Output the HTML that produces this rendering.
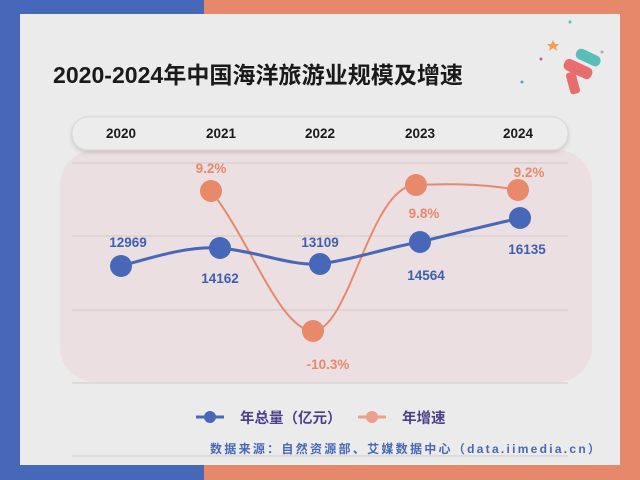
<!DOCTYPE html>
<html><head><meta charset="utf-8"><style>
html,body{margin:0;padding:0;width:640px;height:480px;overflow:hidden;background:#ebebeb}
text{font-family:"Liberation Sans","Noto Sans CJK SC",sans-serif;font-weight:bold}
</style></head><body>
<svg width="640" height="480" viewBox="0 0 640 480" xmlns="http://www.w3.org/2000/svg">
<defs><filter id="sh" x="-5%" y="-30%" width="110%" height="170%"><feDropShadow dx="0" dy="2" stdDeviation="2" flood-color="#000" flood-opacity="0.15"/></filter></defs>
<rect x="0" y="0" width="204" height="480" fill="#4767b8"/>
<rect x="204" y="0" width="436" height="480" fill="#e6896b"/>
<rect x="0" y="465" width="204" height="15" fill="#4767b8"/>
<rect x="20" y="14" width="600" height="451" fill="#ebebeb"/>
<text x="53" y="83" font-size="23" fill="#1a1a1a" textLength="410" lengthAdjust="spacingAndGlyphs">2020-2024年中国海洋旅游业规模及增速</text>
<g>
<rect x="563" y="63" width="30" height="12" rx="5" fill="#e86e6e" transform="rotate(25 578 69)"/>
<rect x="568" y="72" width="10" height="22" rx="3" fill="#e86e6e" transform="rotate(-15 573 83)"/>
<rect x="575" y="52" width="26" height="11" rx="5" fill="#5bbcb8" transform="rotate(25 588 58)"/>
<polygon points="553,40 555,44 559,44 556,47 557,51 553,48 549,51 550,47 547,44 551,44" fill="#f0a050"/>
<circle cx="541" cy="59" r="1.5" fill="#c060a0"/><circle cx="522" cy="82" r="1.5" fill="#5aa0c0"/>
<circle cx="602" cy="52" r="1.5" fill="#aaa"/><circle cx="570" cy="22" r="1.5" fill="#5bbcb8"/>
</g>
<rect x="60" y="150" width="532" height="232" rx="35" fill="#ebdfe2"/>
<rect x="72" y="117" width="496" height="33" rx="16" fill="#ececec" stroke="#d6d6d6" stroke-width="1" filter="url(#sh)"/>
<g font-size="13.5" fill="#1a1a1a" text-anchor="middle">
<text x="121" y="138">2020</text><text x="221" y="138">2021</text><text x="320" y="138">2022</text><text x="420" y="138">2023</text><text x="518" y="138">2024</text></g>
<g stroke="#cfc8ca" stroke-width="1">
<line x1="72" y1="163" x2="568" y2="163"/><line x1="72" y1="236" x2="568" y2="236"/>
<line x1="72" y1="310" x2="568" y2="310"/><line x1="72" y1="383" x2="568" y2="383"/><line x1="72" y1="456" x2="568" y2="456"/></g>
<path d="M211,191 C250,240 280,330 313,331 C350,330 370,185 416,185 C460,183 490,185 518,190" fill="none" stroke="#e8896a" stroke-width="2"/>
<path d="M121,266 C160,255 190,246 220,248 C260,252 290,266 320,264 C360,258 385,248 420,242 C460,232 490,225 520,218" fill="none" stroke="#4767b8" stroke-width="3"/>
<g fill="#e8896a"><circle cx="211" cy="191" r="11"/><circle cx="313" cy="331" r="11"/><circle cx="416" cy="185" r="11"/><circle cx="518" cy="190" r="11"/></g>
<g fill="#4767b8"><circle cx="121" cy="266" r="11"/><circle cx="220" cy="248" r="11"/><circle cx="320" cy="264" r="11"/><circle cx="420" cy="242" r="11"/><circle cx="520" cy="218" r="11"/></g>
<g font-size="13.5" fill="#3f5fae" text-anchor="middle">
<text x="128" y="247">12969</text><text x="220" y="283">14162</text><text x="320" y="247">13109</text><text x="426" y="280">14564</text><text x="527" y="254">16135</text></g>
<g font-size="13.5" fill="#e8896a" text-anchor="middle">
<text x="211" y="173">9.2%</text><text x="328" y="369">-10.3%</text><text x="424" y="218">9.8%</text><text x="529" y="177">9.2%</text></g>
<line x1="196" y1="417" x2="224" y2="417" stroke="#4767b8" stroke-width="3"/><circle cx="210" cy="417" r="6" fill="#4767b8"/>
<text x="240" y="423" font-size="14.5" fill="#4a3f8a">年总量（亿元）</text>
<line x1="358" y1="417" x2="386" y2="417" stroke="#eba08a" stroke-width="3"/><circle cx="372" cy="417" r="6" fill="#eba08a"/>
<text x="402" y="423" font-size="14.5" fill="#4a3f8a">年增速</text>
<text x="210" y="453" font-size="12" fill="#4767b8" textLength="390" lengthAdjust="spacing">数据来源：自然资源部、艾媒数据中心（data.iimedia.cn）</text>
</svg>
</body></html>
